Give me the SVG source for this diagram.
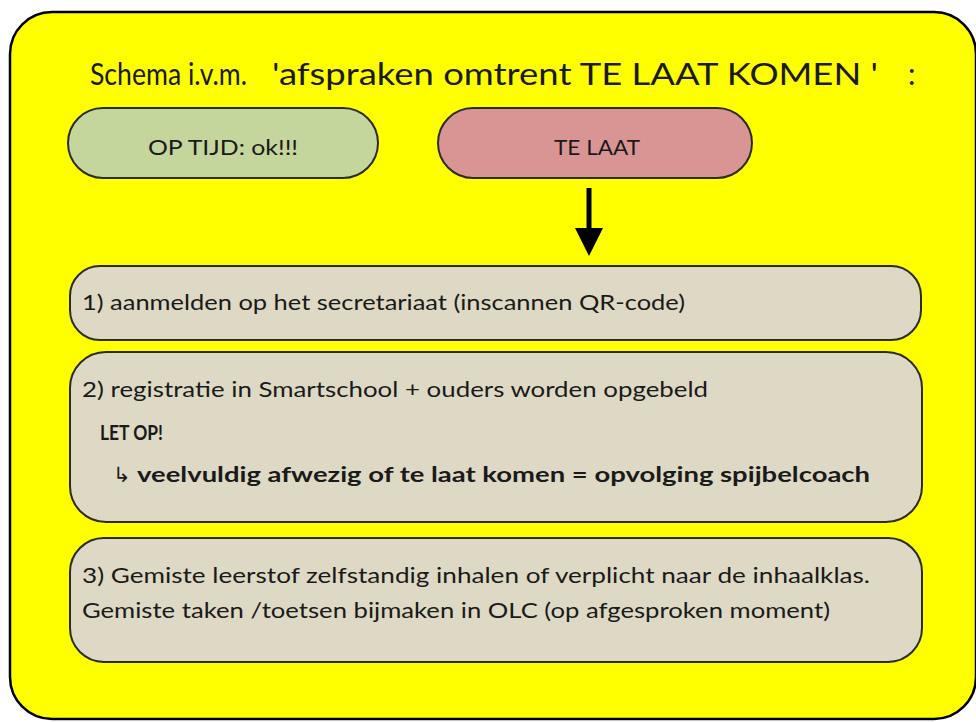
<svg xmlns="http://www.w3.org/2000/svg" width="976" height="722" viewBox="0 0 976 722">
<style>
.t{font-family:Lato,"Open Sans","Liberation Sans",sans-serif;fill:#1a1a1a}
.n{stroke:#2b2b1e;stroke-width:2}
.b{font-weight:bold}
</style>
<rect width="976" height="722" fill="#fff"/>
<g id="frame">
<rect x="10" y="12" width="966" height="707" rx="42" fill="#ffff00" stroke="#000" stroke-width="2.5"/>
<text class="t" x="90" y="85" font-size="30" textLength="157" lengthAdjust="spacingAndGlyphs">Schema i.v.m.</text>
<text class="t" x="272" y="85" font-size="30" textLength="606" lengthAdjust="spacingAndGlyphs">'afspraken omtrent TE LAAT KOMEN '</text>
<text class="t" x="908" y="85" font-size="30">:</text>
</g>
<g id="optijd">
<rect class="n" x="68" y="108" width="310" height="70" rx="35" fill="#c4d69c"/>
<text class="t" x="223" y="155" font-size="21" text-anchor="middle" textLength="150" lengthAdjust="spacingAndGlyphs">OP TIJD: ok!!!</text>
</g>
<g id="telaat">
<rect class="n" x="438" y="108" width="314" height="70" rx="35" fill="#d99594"/>
<text class="t" x="597" y="155" font-size="21" text-anchor="middle" textLength="86" lengthAdjust="spacingAndGlyphs">TE LAAT</text>
</g>
<g id="connectors">
<line x1="589" y1="188" x2="589" y2="232" stroke="#000" stroke-width="5"/>
<path d="M575,228 L603,228 L589,256 Z" fill="#000"/>
</g>
<g id="stap1">
<rect class="n" x="70" y="266" width="851" height="74" rx="30" fill="#ddd9c4"/>
<text class="t" x="82" y="310" font-size="22" textLength="603" lengthAdjust="spacingAndGlyphs">1) aanmelden op het secretariaat (inscannen QR-code)</text>
</g>
<g id="stap2">
<rect class="n" x="70" y="352" width="852" height="170" rx="36" fill="#ddd9c4"/>
<text class="t" x="82" y="397" font-size="22" textLength="626" lengthAdjust="spacingAndGlyphs">2) registratie in Smartschool + ouders worden opgebeld</text>
<text class="t b" x="100" y="440" font-size="21" textLength="63" lengthAdjust="spacingAndGlyphs">LET OP!</text>
<text class="t" x="113" y="482" font-size="21">↳</text>
<text class="t b" x="137" y="482" font-size="21" textLength="733" lengthAdjust="spacingAndGlyphs">veelvuldig afwezig of te laat komen = opvolging spijbelcoach</text>
</g>
<g id="stap3">
<rect class="n" x="70" y="538" width="852" height="124" rx="34" fill="#ddd9c4"/>
<text class="t" x="82" y="583" font-size="22" textLength="788" lengthAdjust="spacingAndGlyphs">3) Gemiste leerstof zelfstandig inhalen of verplicht naar de inhaalklas.</text>
<text class="t" x="82" y="618" font-size="22" textLength="748" lengthAdjust="spacingAndGlyphs">Gemiste taken /toetsen bijmaken in OLC (op afgesproken moment)</text>
</g>
</svg>
